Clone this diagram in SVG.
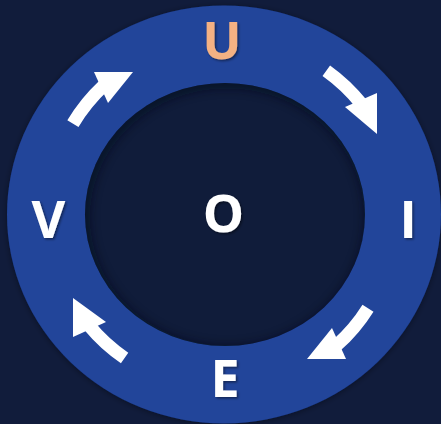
<svg xmlns="http://www.w3.org/2000/svg" width="441" height="424" viewBox="0 0 441 424">
<style>
.lbl{font-family:"Open Sans","Liberation Sans",sans-serif;font-weight:700;font-size:52px;fill:#ffffff;text-anchor:middle;filter:url(#ts)}
.shaft{fill:none;stroke:#ffffff;stroke-width:13;stroke-linecap:butt}
.head{fill:#ffffff}
</style>
<defs>
<filter id="ts" x="-30%" y="-30%" width="160%" height="160%">
<feDropShadow dx="1.5" dy="1.5" stdDeviation="1.2" flood-color="#000000" flood-opacity="0.45"/>
</filter>
<filter id="os" x="-10%" y="-10%" width="120%" height="120%">
<feDropShadow dx="0" dy="1" stdDeviation="3" flood-color="#000000" flood-opacity="0.4"/>
</filter>
<filter id="blur" x="-20%" y="-20%" width="140%" height="140%">
<feGaussianBlur stdDeviation="5"/>
</filter>
<clipPath id="innerClip"><ellipse cx="225" cy="214.5" rx="140" ry="131.5"/></clipPath>
</defs>
<rect width="441" height="424" fill="#111c3b"/>
<g id="ring">
<ellipse cx="224" cy="214.5" rx="217" ry="209" fill="#20449a" filter="url(#os)"/>
<ellipse cx="225" cy="214.5" rx="140" ry="131.5" fill="#101c3a"/>
<g clip-path="url(#innerClip)">
<ellipse cx="227" cy="217" rx="143" ry="134.5" fill="none" stroke="#050b1c" stroke-width="12" opacity="0.55" filter="url(#blur)"/>
</g>
</g>
<g id="connectors">
<g id="arrow-v-u">
<path class="shaft" d="M 72.9 123.7 A 176 176 0 0 1 104 85.3"/>
<polygon class="head" points="94,72 133,72 108,103"/>
</g>
<g id="arrow-u-i">
<path class="shaft" d="M 326.3 70.7 A 176 176 0 0 1 361.8 104.4"/>
<polygon class="head" points="345,107 377,93 377,134"/>
</g>
<g id="arrow-i-e">
<path class="shaft" d="M 368 308.2 A 172 172 0 0 1 336.4 345.5"/>
<polygon class="head" points="346,359 307,359 332,328"/>
</g>
<g id="arrow-e-v">
<path class="shaft" d="M 124.6 358 A 175 175 0 0 1 88.9 325.4"/>
<polygon class="head" points="73,337 73,298 106,322"/>
</g>
</g>
<g id="node-u"><text class="lbl" x="222" y="59" style="fill:#f4b183">U</text></g>
<g id="node-o"><text class="lbl" x="223.5" y="232">O</text></g>
<g id="node-i"><text class="lbl" x="408" y="238">I</text></g>
<g id="node-e"><text class="lbl" x="225" y="397">E</text></g>
<g id="node-v"><text class="lbl" x="48.5" y="238">V</text></g>
</svg>
